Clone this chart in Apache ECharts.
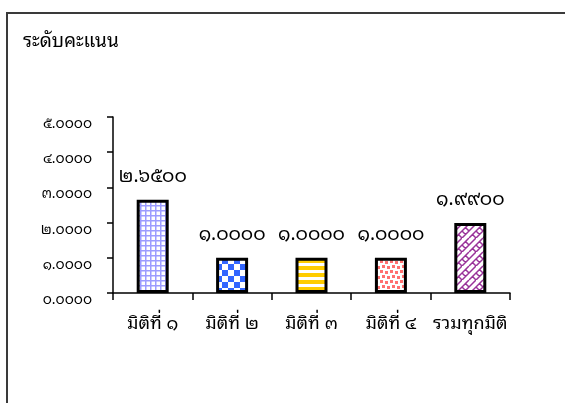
<!DOCTYPE html>
<html><head><meta charset="utf-8">
<script src="https://cdn.jsdelivr.net/npm/echarts@6/dist/echarts.min.js"></script>
<style>html,body{margin:0;padding:0;background:#fff}#c{width:565px;height:403px}</style>
</head><body><div id="c"></div>
<script>
var categories = ['มิติที่ ๑', 'มิติที่ ๒', 'มิติที่ ๓', 'มิติที่ ๔', 'รวมทุกมิติ'];
var values = [2.65, 1.0, 1.0, 1.0, 1.99];
var yTickValues = [0, 1, 2, 3, 4, 5];
var titleText = 'ระดับคะแนน';

var thaiDigits = ['๐','๑','๒','๓','๔','๕','๖','๗','๘','๙'];
function toThai(v){ return v.toFixed(4).replace(/[0-9]/g, function(d){ return thaiDigits[+d]; }); }

function tile(w, h, draw){
  var c = document.createElement('canvas'); c.width = w; c.height = h;
  var g = c.getContext('2d'); g.fillStyle = '#fff'; g.fillRect(0,0,w,h); draw(g); return c;
}
var pGrid = tile(5,5,function(g){ g.fillStyle='#9c9cff'; g.fillRect(0,0,5,1.5); g.fillRect(0,0,1.5,5); });
var pCheck = tile(12,12,function(g){ g.fillStyle='#3366ff'; g.fillRect(0,0,6,6); g.fillRect(6,6,6,6); });
var pStripe = tile(7,7,function(g){ g.fillStyle='#ffcc00'; g.fillRect(0,0,7,4); });
var pDots = tile(10,10,function(g){ g.fillStyle='#ff7070'; g.fillRect(0,0,3,3); g.fillRect(5,1,3,3); g.fillRect(2,5,3,3); g.fillRect(7,6,3,3); });
var pBrick = tile(14,14,function(g){ g.strokeStyle='#993399'; g.lineWidth=1.5;
  g.beginPath(); g.moveTo(0,14); g.lineTo(14,0); g.moveTo(-7,14); g.lineTo(7,0); g.moveTo(7,14); g.lineTo(21,0);
  g.moveTo(3.5,3.5); g.lineTo(7,7); g.moveTo(10.5,10.5); g.lineTo(14,14); g.moveTo(10.5,-3.5); g.lineTo(14,0); g.moveTo(0,7); g.lineTo(3.5,10.5); g.stroke(); });
var patterns = [pGrid, pCheck, pStripe, pDots, pBrick];

var FONT = "'Noto Sans Thai Looped', sans-serif";
var chart = echarts.init(document.getElementById('c'));
chart.setOption({
  animation: false,
  textStyle: { fontFamily: FONT },
  graphic: [
    { type: 'rect', shape: { x: 7, y: 13, width: 620, height: 420 }, style: { fill: 'none', stroke: '#3a3a3a', lineWidth: 2 }, z: 0 },
    { type: 'text', left: 23, top: 32, style: { text: titleText, fontSize: 19, fill: '#000', fontFamily: FONT } }
  ],
  grid: { left: 113, right: 55, top: 117, bottom: 110 },
  xAxis: {
    type: 'category', data: categories,
    axisLine: { lineStyle: { color: '#000', width: 1.5 } },
    axisTick: { show: true, length: 7, lineStyle: { color: '#000', width: 1.5 } },
    axisLabel: { color: '#000', fontSize: 18, margin: 22, interval: 0, fontFamily: FONT }
  },
  yAxis: {
    type: 'value', min: yTickValues[0], max: yTickValues[yTickValues.length-1], interval: 1,
    splitLine: { show: false },
    axisLine: { show: true, lineStyle: { color: '#000', width: 1.5 } },
    axisTick: { show: true, length: 6, lineStyle: { color: '#000', width: 1.5 } },
    axisLabel: { color: '#000', fontSize: 14, margin: 21, verticalAlign: 'top', lineHeight: 14, fontFamily: FONT, formatter: function(v){ return toThai(v); } }
  },
  series: [{
    type: 'bar', barWidth: 32,
    data: values.map(function(v, i){ return { value: v, itemStyle: { color: { image: patterns[i], repeat: 'repeat' } } }; }),
    itemStyle: { borderColor: '#000', borderWidth: 3 },
    label: { show: true, position: 'top', distance: 14, color: '#000', fontSize: 19, fontFamily: FONT, formatter: function(p){ return toThai(p.value); } }
  }]
});
</script></body></html>
